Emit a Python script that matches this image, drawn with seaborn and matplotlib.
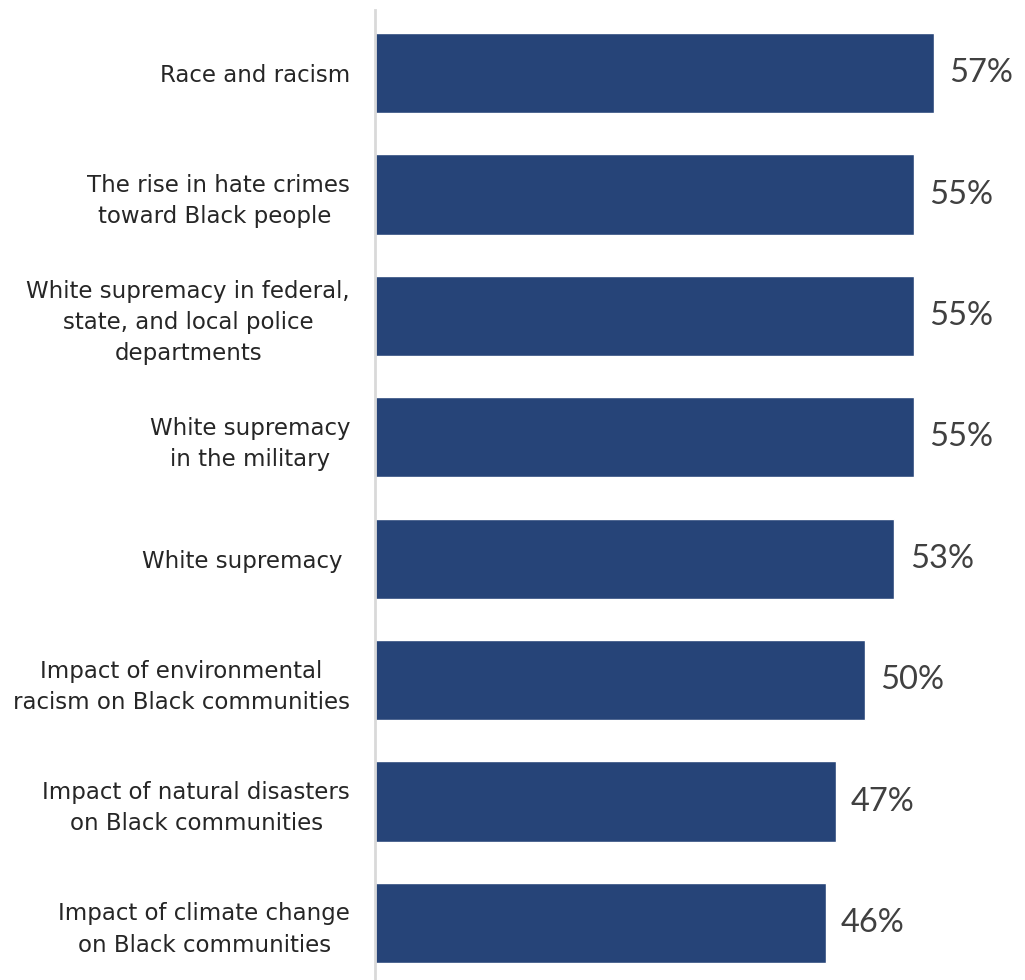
import matplotlib
matplotlib.use("Agg")
import matplotlib.pyplot as plt
import seaborn as sns
import pandas as pd

# data
categories = [
    "Race and racism",
    "The rise in hate crimes\ntoward Black people ",
    "White supremacy in federal,\nstate, and local police\ndepartments",
    "White supremacy\nin the military",
    "White supremacy ",
    "Impact of environmental\nracism on Black communities",
    "Impact of natural disasters\non Black communities",
    "Impact of climate change\non Black communities",
]
values = [57, 55, 55, 55, 53, 50, 47, 46]

df = pd.DataFrame({"topic": categories, "pct": values})

sns.set_style("white")
plt.rcParams["font.family"] = ["Lato", "DejaVu Sans"]

fig = plt.figure(figsize=(10.25, 9.8), dpi=100)
ax = fig.add_axes([375 / 1025, 0.0, 650 / 1025, 970 / 980])

sns.barplot(data=df, y="topic", x="pct", orient="h", color="#264478",
            width=0.66, saturation=1, ax=ax)

ax.set_xlim(0, 650 / 9.8)
ax.set_ylim(7.47, -0.52)

for i, v in enumerate(values):
    ax.annotate(f"{v}%", xy=(v, i), xytext=(11, 0), textcoords="offset points",
                va="center", ha="left", fontsize=23.5, color="#404040")

ax.set_yticks(range(len(categories)))
ax.set_yticklabels(categories, fontsize=16.5, color="#262626",
                   family="DejaVu Sans", multialignment="center",
                   linespacing=1.45)
ax.tick_params(axis="y", length=0, pad=18)
ax.set_xticks([])
ax.set_xlabel("")
ax.set_ylabel("")

for s in ["top", "right", "bottom"]:
    ax.spines[s].set_visible(False)
ax.spines["left"].set_color("#d9d9d9")
ax.spines["left"].set_linewidth(2)

fig.savefig("out.png", dpi=100)
